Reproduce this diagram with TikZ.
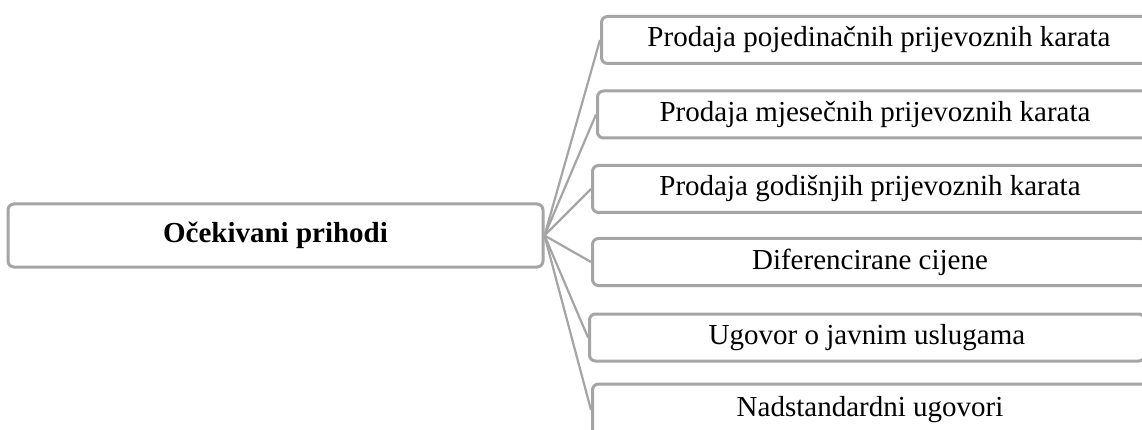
\documentclass[tikz,border=0pt]{standalone}
\usepackage{fontspec}
\setmainfont{Liberation Serif}
\definecolor{boxgray}{HTML}{A5A5A5}
\begin{document}
\begin{tikzpicture}[x=1pt,y=-1pt,
  rbox/.style={draw=boxgray, line width=3pt, rounded corners=6pt, fill=white,
    inner sep=0pt, minimum height=47pt, minimum width=555pt, anchor=west,
    font=\fontsize{29}{33}\selectfont},
  mainbox/.style={draw=boxgray, line width=3pt, rounded corners=6pt, fill=white,
    inner sep=0pt, minimum height=63pt, minimum width=535pt,
    font=\fontsize{29}{33}\selectfont\bfseries},
  conn/.style={draw=boxgray, line width=2.2pt}]
\clip (0,0) rectangle (1142,430);
\fill[white] (0,0) rectangle (1142,430);
\node[mainbox] (m) at (275.5,235.5) {Očekivani prihodi};
\node[rbox] (b1) at (600,40) {Prodaja pojedinačnih prijevoznih karata};
\node[rbox] (b2) at (596,114.5) {Prodaja mjesečnih prijevoznih karata};
\node[rbox] (b3) at (591,189) {Prodaja godišnjih prijevoznih karata};
\node[rbox] (b4) at (591,262) {Diferencirane cijene};
\node[rbox] (b5) at (588,337.5) {Ugovor o javnim uslugama};
\node[rbox, minimum height=52pt] (b6) at (591,410) {Nadstandardni ugovori};
\foreach \b in {b1,b2,b3,b4,b5,b6}
  \draw[conn] (m.east) -- (\b.west);
\end{tikzpicture}
\end{document}
